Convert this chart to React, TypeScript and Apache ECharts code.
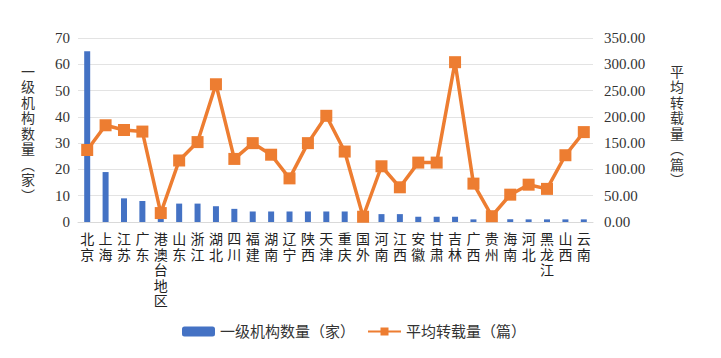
import React, { useEffect, useRef } from "react";
import * as echarts from "echarts";

const categories = ["北京","上海","江苏","广东","港澳台地区","山东","浙江","湖北","四川","福建","湖南","辽宁","陕西","天津","重庆","国外","河南","江西","安徽","甘肃","吉林","广西","贵州","海南","河北","黑龙江","山西","云南"];
const orgCounts = [65,19,9,8,2,7,7,6,5,4,4,4,4,4,4,3,3,3,2,2,2,1,1,1,1,1,1,1];
const avgReprints = [137,184,175,172,17,117,152,262,120,150,128,83,150,202,134,10,106,66,113,113,304,73,11,52,71,63,127,171];
const leftTicks = [0,10,20,30,40,50,60,70];
const rightTicks = [0,50,100,150,200,250,300,350];
const leftTitle = "一级机构数量︵家︶";
const rightTitle = "平均转载量︵篇︶";

const serif = "'Liberation Serif', 'Noto Sans CJK SC', serif";

function verticalText(str: string, x: number, y0: number, step: number) {
  return str.split("").map((ch, i) => ({
    type: "text",
    x,
    y: y0 + i * step,
    style: {
      text: ch,
      font: "14px 'Liberation Serif', 'Noto Sans CJK SC'",
      fill: "#333",
      align: "center",
      verticalAlign: "middle",
    },
  }));
}

export default function App() {
  const ref = useRef<HTMLDivElement>(null);
  useEffect(() => {
    document.body.style.margin = "0";
    if (!ref.current) return;
    const chart = echarts.init(ref.current, undefined, { renderer: "svg" });
    chart.setOption({
      animation: false,
      backgroundColor: "#ffffff",
      grid: { left: 78, right: 128, top: 38, bottom: 136 },
      legend: {
        left: 177,
        top: 319,
        itemWidth: 33,
        itemHeight: 10,
        itemGap: 12,
        textStyle: { fontFamily: serif, fontSize: 15, color: "#333" },
        data: ["一级机构数量（家）", "平均转载量（篇）"],
      },
      graphic: [
        ...verticalText(leftTitle, 28, 72, 15.5),
        ...verticalText(rightTitle, 677, 72, 15.5),
      ],
      xAxis: {
        type: "category",
        data: categories,
        axisTick: { show: false },
        axisLine: { show: true, lineStyle: { color: "#d9d9d9" } },
        axisLabel: {
          interval: 0,
          color: "#222",
          fontFamily: serif,
          fontSize: 14,
          lineHeight: 15.5,
          margin: 10,
          formatter: (v: string) => v.split("").join("\n"),
        },
      },
      yAxis: [
        {
          type: "value",
          min: leftTicks[0],
          max: leftTicks[leftTicks.length - 1],
          interval: 10,
          axisLine: { show: false },
          axisTick: { show: false },
          splitLine: { lineStyle: { color: "#e3e3e3", width: 1 } },
          axisLabel: { color: "#333", fontFamily: serif, fontSize: 15, margin: 8 },
        },
        {
          type: "value",
          min: rightTicks[0],
          max: rightTicks[rightTicks.length - 1],
          interval: 50,
          axisLine: { show: false },
          axisTick: { show: false },
          splitLine: { show: false },
          axisLabel: {
            color: "#333",
            fontFamily: serif,
            fontSize: 15,
            margin: 11,
            formatter: (v: number) => v.toFixed(2),
          },
        },
      ],
      series: [
        {
          name: "一级机构数量（家）",
          type: "bar",
          data: orgCounts,
          barWidth: 6,
          itemStyle: { color: "#4472C4" },
          yAxisIndex: 0,
        },
        {
          name: "平均转载量（篇）",
          type: "line",
          data: avgReprints,
          yAxisIndex: 1,
          symbol: "rect",
          symbolSize: 12,
          lineStyle: { color: "#ED7D31", width: 3.5 },
          itemStyle: { color: "#ED7D31" },
        },
      ],
    });
    return () => chart.dispose();
  }, []);
  return <div ref={ref} style={{ width: 721, height: 358 }} />;
}
